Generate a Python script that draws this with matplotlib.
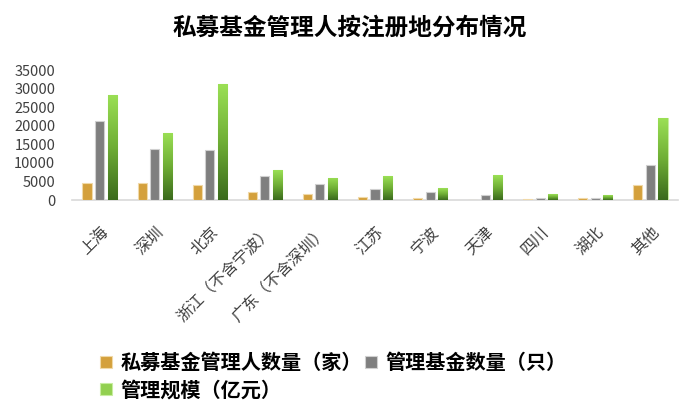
import numpy as np
import matplotlib
matplotlib.use('Agg')
import matplotlib.pyplot as plt
from matplotlib.colors import LinearSegmentedColormap

plt.rcParams['font.family'] = ['Noto Sans CJK SC', 'DejaVu Sans']

regions = ['上海', '深圳', '北京', '浙江（不含宁波）', '广东（不含深圳）', '江苏',
           '宁波', '天津', '四川', '湖北', '其他']
managers = [4500, 4450, 3950, 2070, 1600, 900, 540, 120, 150, 540, 3950]
funds = [21300, 13800, 13450, 6380, 4400, 2870, 2070, 1260, 540, 540, 9500]
scale = [28300, 18100, 31150, 8000, 6000, 6380, 3230, 6730, 1600, 1260, 22000]
series_names = ['私募基金管理人数量（家）', '管理基金数量（只）', '管理规模（亿元）']

fig = plt.figure(figsize=(7, 4.2), dpi=100)
ax = fig.add_axes([72 / 700, 1 - 200 / 420, 606 / 700, 130 / 420])

x = np.arange(len(regions))
w = 0.165
off = 0.227
b1 = ax.bar(x - off, managers, w, color='#D4A03C', edgecolor='#F0D9A8', linewidth=0.8, zorder=3)
b2 = ax.bar(x, funds, w, color='#7F7F7F', edgecolor='#D0D0D0', linewidth=0.8, zorder=3)
b3 = ax.bar(x + off, scale, w, color='#92D050', edgecolor='#C8EDA0', linewidth=0.8, zorder=3)

# gradient fill for the green bars
green_cmap = LinearSegmentedColormap.from_list('g', ['#3A6A1C', '#6FAE35', '#9BE055'])
grad = np.linspace(0, 1, 256).reshape(-1, 1)
for bar in b3:
    bx, by = bar.get_x(), bar.get_y()
    bw, bh = bar.get_width(), bar.get_height()
    im = ax.imshow(grad, cmap=green_cmap, origin='lower', aspect='auto',
                   extent=(bx, bx + bw, by, by + bh), zorder=3.5)
    im.set_clip_path(bar)

ax.set_xlim(-0.5, len(regions) - 0.5)
ax.set_ylim(0, 35000)
ax.set_yticks(np.arange(0, 35001, 5000))
ax.set_xticks(x)
ax.set_xticklabels(regions, rotation=45, ha='right', rotation_mode='anchor',
                   fontsize=11.5, color='#404040')
ax.tick_params(axis='y', labelsize=10.5, labelcolor='#404040', length=0, pad=12)
ax.tick_params(axis='x', length=0, pad=17)
for s in ['top', 'right', 'left']:
    ax.spines[s].set_visible(False)
ax.spines['bottom'].set_color('#D9D9D9')
ax.spines['bottom'].set_linewidth(1.2)

fig.suptitle('私募基金管理人按注册地分布情况', x=0.5, y=0.962, fontsize=17, fontweight='bold')

leg = fig.legend([b1, b3, b2], [series_names[0], series_names[2], series_names[1]],
                 ncol=2, loc='upper left', bbox_to_anchor=(82 / 700, 1 - 334 / 420),
                 frameon=False, prop={'weight': 'bold', 'size': 14.5},
                 handlelength=0.6, handleheight=0.6, handletextpad=0.4,
                 columnspacing=0.15, labelspacing=0.3)

fig.savefig('out.png', dpi=100)
